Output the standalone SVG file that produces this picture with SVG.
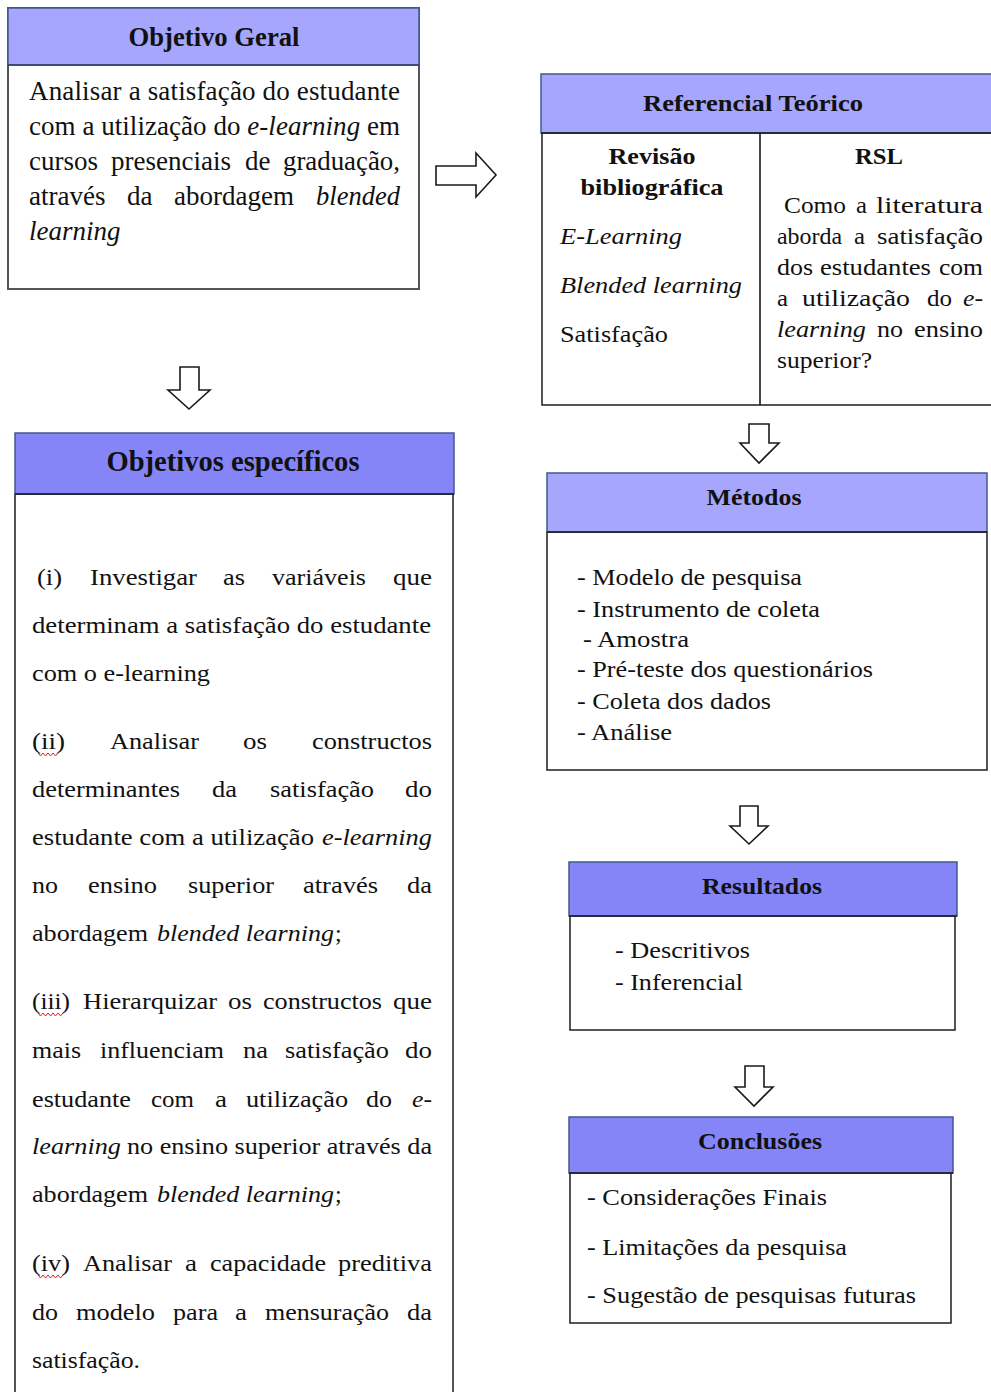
<svg xmlns="http://www.w3.org/2000/svg" width="991" height="1392" viewBox="0 0 991 1392">
  <style>
    .bg { fill: #ffffff; }
    .hl { fill: #a6a6fc; stroke: #41598f; stroke-width: 1.5; }
    .hd { fill: #8585f8; stroke: #41598f; stroke-width: 1.5; }
    .bd { fill: #ffffff; stroke: #2b2b2b; stroke-width: 1.6; }
    .rule { stroke: #1a1a1a; stroke-width: 1.6; fill: none; }
    .t { font-family: "Liberation Serif", "Times New Roman", serif; fill: #111111; }
    .b { font-weight: bold; }
    .i { font-style: italic; }
    .mid { text-anchor: middle; }
    .s27 { font-size: 27px; }
    .s24 { font-size: 24px; }
    .s23 { font-size: 23px; }
    .blk { fill: #ffffff; stroke: #1a1a1a; stroke-width: 1.6; stroke-linejoin: miter; }
    .sq { fill: none; stroke: #e02020; stroke-width: 1; }
  </style>

  <rect class="bg" x="0" y="0" width="991" height="1392"/>

  <!-- Objetivo Geral -->
  <g id="objetivo-geral">
    <rect class="bd" x="8" y="8" width="411" height="281" style="stroke:#555555;stroke-width:2"/>
    <rect class="hl" x="8" y="8" width="411" height="57"/>
    <line class="rule" x1="8" y1="65" x2="419" y2="65" style="stroke:#2f3f66"/>
    <text class="t b s27 mid" x="214" y="46" textLength="171" lengthAdjust="spacingAndGlyphs">Objetivo Geral</text>
    <text class="t s27" x="29" y="100" textLength="371" lengthAdjust="spacing">Analisar a satisfação do estudante</text>
    <text class="t s27" x="29" y="135" textLength="371" lengthAdjust="spacing">com a utilização do <tspan class="i">e-learning</tspan> em</text>
    <text class="t s27" x="29" y="170">cursos</text>
    <text class="t s27" x="111" y="170">presenciais</text>
    <text class="t s27" x="245" y="170">de</text>
    <text class="t s27" x="283" y="170" textLength="117" lengthAdjust="spacingAndGlyphs">graduação,</text>
    <text class="t s27" x="29" y="205">através</text>
    <text class="t s27" x="127" y="205">da</text>
    <text class="t s27" x="174" y="205">abordagem</text>
    <text class="t s27 i" x="316" y="205" textLength="84" lengthAdjust="spacingAndGlyphs">blended</text>
    <text class="t s27 i" x="29" y="240">learning</text>
  </g>

  <!-- Referencial Teórico -->
  <g id="referencial-teorico">
    <rect class="bd" x="542" y="133" width="460" height="272"/>
    <rect class="hl" x="541" y="74" width="460" height="59"/>
    <line class="rule" x1="541" y1="133" x2="991" y2="133"/>
    <line class="rule" x1="760" y1="133" x2="760" y2="405"/>
    <text class="t b s23 mid" x="753" y="111" textLength="220" lengthAdjust="spacingAndGlyphs">Referencial Teórico</text>

    <text class="t b s23 mid" x="652" y="164" textLength="87" lengthAdjust="spacingAndGlyphs">Revisão</text>
    <text class="t b s23 mid" x="652" y="195" textLength="143" lengthAdjust="spacingAndGlyphs">bibliográfica</text>
    <text class="t s23 i" x="560" y="244" textLength="122" lengthAdjust="spacingAndGlyphs">E-Learning</text>
    <text class="t s23 i" x="560" y="293" textLength="182" lengthAdjust="spacingAndGlyphs">Blended learning</text>
    <text class="t s23" x="560" y="342" textLength="108" lengthAdjust="spacingAndGlyphs">Satisfação</text>

    <text class="t b s23 mid" x="879" y="164" textLength="48" lengthAdjust="spacingAndGlyphs">RSL</text>
    <text class="t s23" x="784" y="213" textLength="62" lengthAdjust="spacingAndGlyphs">Como</text>
    <text class="t s23" x="856" y="213" textLength="11" lengthAdjust="spacingAndGlyphs">a</text>
    <text class="t s23" x="876" y="213" textLength="107" lengthAdjust="spacingAndGlyphs">literatura</text>
    <text class="t s23" x="777" y="244" textLength="65" lengthAdjust="spacingAndGlyphs">aborda</text>
    <text class="t s23" x="854" y="244" textLength="11" lengthAdjust="spacingAndGlyphs">a</text>
    <text class="t s23" x="877" y="244" textLength="106" lengthAdjust="spacingAndGlyphs">satisfação</text>
    <text class="t s23" x="777" y="275" textLength="36" lengthAdjust="spacingAndGlyphs">dos</text>
    <text class="t s23" x="820" y="275" textLength="111" lengthAdjust="spacingAndGlyphs">estudantes</text>
    <text class="t s23" x="939" y="275" textLength="44" lengthAdjust="spacingAndGlyphs">com</text>
    <text class="t s23" x="777" y="306" textLength="11" lengthAdjust="spacingAndGlyphs">a</text>
    <text class="t s23" x="802" y="306" textLength="108" lengthAdjust="spacingAndGlyphs">utilização</text>
    <text class="t s23" x="927" y="306" textLength="25" lengthAdjust="spacingAndGlyphs">do</text>
    <text class="t s23 i" x="963" y="306" textLength="20" lengthAdjust="spacingAndGlyphs">e-</text>
    <text class="t s23 i" x="777" y="337" textLength="89" lengthAdjust="spacingAndGlyphs">learning</text>
    <text class="t s23" x="877" y="337" textLength="26" lengthAdjust="spacingAndGlyphs">no</text>
    <text class="t s23" x="914" y="337" textLength="69" lengthAdjust="spacingAndGlyphs">ensino</text>
    <text class="t s23" x="777" y="368" textLength="95" lengthAdjust="spacingAndGlyphs">superior?</text>
  </g>

  <!-- Objetivos específicos -->
  <g id="objetivos-especificos">
    <rect class="bd" x="15" y="494" width="438" height="910"/>
    <rect class="hd" x="15" y="433" width="439" height="61"/>
    <line class="rule" x1="15" y1="494" x2="454" y2="494"/>
    <text class="t b mid" x="233" y="471" style="font-size:30px" textLength="253" lengthAdjust="spacingAndGlyphs">Objetivos específicos</text>

    <!-- (i) -->
    <text class="t s24" x="37" y="585" textLength="25" lengthAdjust="spacingAndGlyphs">(i)</text>
    <text class="t s24" x="90" y="585" textLength="107" lengthAdjust="spacingAndGlyphs">Investigar</text>
    <text class="t s24" x="223" y="585" textLength="22" lengthAdjust="spacingAndGlyphs">as</text>
    <text class="t s24" x="272" y="585" textLength="94" lengthAdjust="spacingAndGlyphs">variáveis</text>
    <text class="t s24" x="393" y="585" textLength="39" lengthAdjust="spacingAndGlyphs">que</text>
    <text class="t s24" x="32" y="633" textLength="399" lengthAdjust="spacingAndGlyphs">determinam a satisfação do estudante</text>
    <text class="t s24" x="32" y="681" textLength="178" lengthAdjust="spacingAndGlyphs">com o e-learning</text>

    <!-- (ii) -->
    <text class="t s24" x="32" y="749" textLength="33" lengthAdjust="spacingAndGlyphs">(ii)</text>
    <text class="t s24" x="110" y="749" textLength="89" lengthAdjust="spacingAndGlyphs">Analisar</text>
    <text class="t s24" x="243" y="749" textLength="24" lengthAdjust="spacingAndGlyphs">os</text>
    <text class="t s24" x="312" y="749" textLength="120" lengthAdjust="spacingAndGlyphs">constructos</text>
    <text class="t s24" x="32" y="797" textLength="148" lengthAdjust="spacingAndGlyphs">determinantes</text>
    <text class="t s24" x="212" y="797" textLength="25" lengthAdjust="spacingAndGlyphs">da</text>
    <text class="t s24" x="270" y="797" textLength="104" lengthAdjust="spacingAndGlyphs">satisfação</text>
    <text class="t s24" x="405" y="797" textLength="27" lengthAdjust="spacingAndGlyphs">do</text>
    <text class="t s24" x="32" y="845" textLength="282" lengthAdjust="spacingAndGlyphs">estudante com a utilização</text>
    <text class="t s24 i" x="322" y="845" textLength="110" lengthAdjust="spacingAndGlyphs">e-learning</text>
    <text class="t s24" x="32" y="893" textLength="26" lengthAdjust="spacingAndGlyphs">no</text>
    <text class="t s24" x="88" y="893" textLength="69" lengthAdjust="spacingAndGlyphs">ensino</text>
    <text class="t s24" x="188" y="893" textLength="86" lengthAdjust="spacingAndGlyphs">superior</text>
    <text class="t s24" x="303" y="893" textLength="75" lengthAdjust="spacingAndGlyphs">através</text>
    <text class="t s24" x="407" y="893" textLength="25" lengthAdjust="spacingAndGlyphs">da</text>
    <text class="t s24" x="32" y="941" textLength="116" lengthAdjust="spacingAndGlyphs">abordagem</text>
    <text class="t s24 i" x="157" y="941" textLength="177" lengthAdjust="spacingAndGlyphs">blended learning</text>
    <text class="t s24" x="335" y="941">;</text>

    <!-- (iii) -->
    <text class="t s24" x="32" y="1009" textLength="38" lengthAdjust="spacingAndGlyphs">(iii)</text>
    <text class="t s24" x="83" y="1009" textLength="134" lengthAdjust="spacingAndGlyphs">Hierarquizar</text>
    <text class="t s24" x="228" y="1009" textLength="24" lengthAdjust="spacingAndGlyphs">os</text>
    <text class="t s24" x="263" y="1009" textLength="119" lengthAdjust="spacingAndGlyphs">constructos</text>
    <text class="t s24" x="393" y="1009" textLength="39" lengthAdjust="spacingAndGlyphs">que</text>
    <text class="t s24" x="32" y="1058" textLength="49" lengthAdjust="spacingAndGlyphs">mais</text>
    <text class="t s24" x="100" y="1058" textLength="124" lengthAdjust="spacingAndGlyphs">influenciam</text>
    <text class="t s24" x="243" y="1058" textLength="25" lengthAdjust="spacingAndGlyphs">na</text>
    <text class="t s24" x="285" y="1058" textLength="104" lengthAdjust="spacingAndGlyphs">satisfação</text>
    <text class="t s24" x="405" y="1058" textLength="27" lengthAdjust="spacingAndGlyphs">do</text>
    <text class="t s24" x="32" y="1107" textLength="99" lengthAdjust="spacingAndGlyphs">estudante</text>
    <text class="t s24" x="151" y="1107" textLength="43" lengthAdjust="spacingAndGlyphs">com</text>
    <text class="t s24" x="215" y="1107" textLength="12" lengthAdjust="spacingAndGlyphs">a</text>
    <text class="t s24" x="246" y="1107" textLength="102" lengthAdjust="spacingAndGlyphs">utilização</text>
    <text class="t s24" x="366" y="1107" textLength="26" lengthAdjust="spacingAndGlyphs">do</text>
    <text class="t s24 i" x="412" y="1107" textLength="20" lengthAdjust="spacingAndGlyphs">e-</text>
    <text class="t s24 i" x="32" y="1154" textLength="89" lengthAdjust="spacingAndGlyphs">learning</text>
    <text class="t s24" x="127" y="1154" textLength="305" lengthAdjust="spacingAndGlyphs">no ensino superior através da</text>
    <text class="t s24" x="32" y="1202" textLength="116" lengthAdjust="spacingAndGlyphs">abordagem</text>
    <text class="t s24 i" x="157" y="1202" textLength="177" lengthAdjust="spacingAndGlyphs">blended learning</text>
    <text class="t s24" x="335" y="1202">;</text>

    <!-- (iv) -->
    <text class="t s24" x="32" y="1271" textLength="38" lengthAdjust="spacingAndGlyphs">(iv)</text>
    <text class="t s24" x="83" y="1271" textLength="89" lengthAdjust="spacingAndGlyphs">Analisar</text>
    <text class="t s24" x="185" y="1271" textLength="12" lengthAdjust="spacingAndGlyphs">a</text>
    <text class="t s24" x="210" y="1271" textLength="116" lengthAdjust="spacingAndGlyphs">capacidade</text>
    <text class="t s24" x="338" y="1271" textLength="94" lengthAdjust="spacingAndGlyphs">preditiva</text>
    <text class="t s24" x="32" y="1320" textLength="26" lengthAdjust="spacingAndGlyphs">do</text>
    <text class="t s24" x="76" y="1320" textLength="79" lengthAdjust="spacingAndGlyphs">modelo</text>
    <text class="t s24" x="173" y="1320" textLength="45" lengthAdjust="spacingAndGlyphs">para</text>
    <text class="t s24" x="235" y="1320" textLength="12" lengthAdjust="spacingAndGlyphs">a</text>
    <text class="t s24" x="265" y="1320" textLength="124" lengthAdjust="spacingAndGlyphs">mensuração</text>
    <text class="t s24" x="407" y="1320" textLength="25" lengthAdjust="spacingAndGlyphs">da</text>
    <text class="t s24" x="32" y="1368" textLength="108" lengthAdjust="spacingAndGlyphs">satisfação.</text>

    <!-- spell-check underlines -->
    <path class="sq" d="M38 753 l2.5 3 l2.5 -3 l2.5 3 l2.5 -3 l2.5 3 l2.5 -3 l2.5 3 l2.5 -3"/>
    <path class="sq" d="M38 1013 l2.5 3 l2.5 -3 l2.5 3 l2.5 -3 l2.5 3 l2.5 -3 l2.5 3 l2.5 -3 l2.5 3 l2.5 -3"/>
    <path class="sq" d="M38 1275 l2.5 3 l2.5 -3 l2.5 3 l2.5 -3 l2.5 3 l2.5 -3 l2.5 3 l2.5 -3 l2.5 3 l2.5 -3"/>
  </g>

  <!-- Métodos -->
  <g id="metodos">
    <rect class="bd" x="547" y="532" width="440" height="238"/>
    <rect class="hl" x="547" y="473" width="440" height="59"/>
    <line class="rule" x1="547" y1="532" x2="987" y2="532"/>
    <text class="t b s23 mid" x="754" y="505" textLength="95" lengthAdjust="spacingAndGlyphs">Métodos</text>
    <text class="t s24" x="577" y="585" textLength="225" lengthAdjust="spacingAndGlyphs">- Modelo de pesquisa</text>
    <text class="t s24" x="577" y="617" textLength="243" lengthAdjust="spacingAndGlyphs">- Instrumento de coleta</text>
    <text class="t s24" x="583" y="647" textLength="106" lengthAdjust="spacingAndGlyphs">- Amostra</text>
    <text class="t s24" x="577" y="677" textLength="296" lengthAdjust="spacingAndGlyphs">- Pré-teste dos questionários</text>
    <text class="t s24" x="577" y="709" textLength="194" lengthAdjust="spacingAndGlyphs">- Coleta dos dados</text>
    <text class="t s24" x="577" y="740" textLength="95" lengthAdjust="spacingAndGlyphs">- Análise</text>
  </g>

  <!-- Resultados -->
  <g id="resultados">
    <rect class="bd" x="570" y="916" width="385" height="114"/>
    <rect class="hd" x="569" y="862" width="388" height="54"/>
    <line class="rule" x1="569" y1="916" x2="957" y2="916"/>
    <text class="t b s23 mid" x="762" y="894" textLength="120" lengthAdjust="spacingAndGlyphs">Resultados</text>
    <text class="t s24" x="615" y="958" textLength="135" lengthAdjust="spacingAndGlyphs">- Descritivos</text>
    <text class="t s24" x="615" y="990" textLength="128" lengthAdjust="spacingAndGlyphs">- Inferencial</text>
  </g>

  <!-- Conclusões -->
  <g id="conclusoes">
    <rect class="bd" x="570" y="1173" width="381" height="150"/>
    <rect class="hd" x="569" y="1117" width="384" height="56"/>
    <line class="rule" x1="569" y1="1173" x2="953" y2="1173"/>
    <text class="t b s23 mid" x="760" y="1149" textLength="124" lengthAdjust="spacingAndGlyphs">Conclusões</text>
    <text class="t s24" x="587" y="1205" textLength="240" lengthAdjust="spacingAndGlyphs">- Considerações Finais</text>
    <text class="t s24" x="587" y="1255" textLength="260" lengthAdjust="spacingAndGlyphs">- Limitações da pesquisa</text>
    <text class="t s24" x="587" y="1303" textLength="329" lengthAdjust="spacingAndGlyphs">- Sugestão de pesquisas futuras</text>
  </g>

  <!-- Block arrows between stages -->
  <g id="connectors">
    <polygon class="blk" points="436,166 476,166 476,153 496,175 476,197 476,185 436,185"/>
    <polygon class="blk" points="180,367 199,367 199,390 210,390 189,409 168,390 180,390"/>
    <polygon class="blk" points="749,424 769,424 769,443 779,443 759,463 740,443 749,443"/>
    <polygon class="blk" points="740,806 758,806 758,826 768,826 749,844 730,826 740,826"/>
    <polygon class="blk" points="745,1066 764,1066 764,1087 773,1087 754,1106 735,1087 745,1087"/>
  </g>
</svg>
